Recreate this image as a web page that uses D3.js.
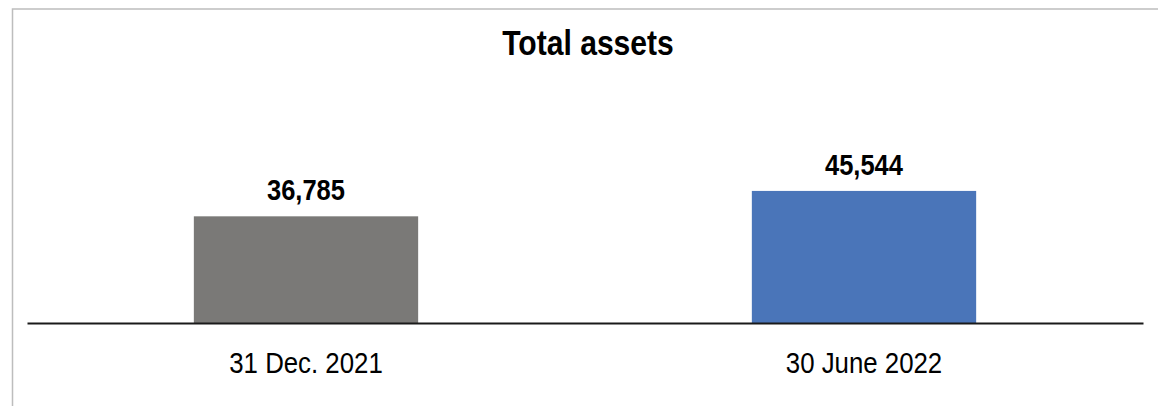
<!DOCTYPE html>
<html>
<head>
<meta charset="utf-8">
<script src="https://cdn.jsdelivr.net/npm/d3@7/dist/d3.min.js"></script>
<style>
  html, body { margin: 0; padding: 0; background: #ffffff; }
  svg { display: block; }
  text { font-family: "Liberation Sans", Arial, sans-serif; }
</style>
</head>
<body>
<div id="chart"></div>
<script>
const categories = ["31 Dec. 2021", "30 June 2022"];
const values = [36785, 45544];
const barColors = ["#7a7977", "#4a75b9"];
const chartTitle = "Total assets";
const yDomain = [0, 50000];

const W = 1158, H = 406;
const svg = d3.select("#chart").append("svg").attr("width", W).attr("height", H);

// outer frame (cropped at right/bottom)
svg.append("rect")
  .attr("x", 12.5).attr("y", 9)
  .attr("width", 1160).attr("height", 420)
  .attr("fill", "none").attr("stroke", "#bdbdbd").attr("stroke-width", 1.5);

const plot = { left: 27, right: 1143, top: 178, bottom: 323 };

const x = d3.scaleBand()
  .domain(categories)
  .range([plot.left, plot.right])
  .paddingInner(0.598)
  .paddingOuter(0.299);

const y = d3.scaleLinear().domain(yDomain).range([plot.bottom, plot.top]);

// title
svg.append("g")
  .attr("transform", `translate(${(plot.left + plot.right) / 2 + 3},55) scale(0.86,1)`)
  .append("text")
  .attr("text-anchor", "middle")
  .attr("font-size", 35)
  .attr("font-weight", "bold")
  .attr("fill", "#000")
  .text(chartTitle);

// bars
svg.selectAll("rect.bar")
  .data(categories)
  .join("rect")
  .attr("class", "bar")
  .attr("x", d => x(d))
  .attr("width", x.bandwidth())
  .attr("y", (d, i) => y(values[i]))
  .attr("height", (d, i) => y(0) - y(values[i]))
  .attr("fill", (d, i) => barColors[i]);

// value labels
const fmt = d3.format(",");
svg.selectAll("g.vlabel")
  .data(categories)
  .join("g")
  .attr("class", "vlabel")
  .attr("transform", (d, i) => `translate(${x(d) + x.bandwidth() / 2},${y(values[i]) - 16}) scale(0.85,1)`)
  .append("text")
  .attr("text-anchor", "middle")
  .attr("font-size", 30)
  .attr("font-weight", "bold")
  .attr("fill", "#000")
  .text((d, i) => fmt(values[i]));

// x axis
const xAxis = svg.append("g")
  .attr("transform", `translate(0,${plot.bottom})`)
  .call(d3.axisBottom(x).tickSize(0).tickPadding(0));
xAxis.select(".domain").attr("stroke", "#1a1a1a").attr("stroke-width", 2.2);
xAxis.selectAll(".tick text").remove();
xAxis.selectAll(".tick").append("g")
  .attr("transform", "translate(0,50) scale(0.89,1)")
  .append("text")
  .attr("text-anchor", "middle")
  .attr("font-size", 29)
  .attr("fill", "#000")
  .text(d => d);
</script>
</body>
</html>
